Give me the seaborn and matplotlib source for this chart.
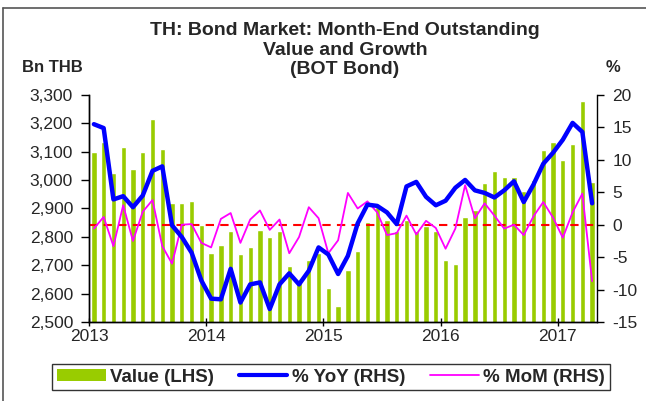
import numpy as np
import pandas as pd
import matplotlib
matplotlib.use("Agg")
import matplotlib.pyplot as plt
import seaborn as sns
from matplotlib.lines import Line2D
from matplotlib.patches import Patch

# month-end outstanding value, Bn THB (Jan 2013 - Apr 2017)
value = [3099, 3134, 3026, 3116, 3039, 3099, 3217, 3109, 2920, 2918, 2925, 2843,
         2744, 2770, 2820, 2741, 2763, 2825, 2801, 2822, 2698, 2647, 2719, 2743,
         2620, 2557, 2683, 2751, 2852, 2905, 2858, 2822, 2860, 2822, 2837, 2822,
         2718, 2704, 2869, 2895, 2990, 3031, 3011, 3010, 2962, 3002, 3105, 3136,
         3072, 3127, 3279, 2992]
# % YoY (RHS)
yoy = [15.5, 14.9, 3.9, 4.4, 2.7, 4.5, 8.3, 9.0, -0.1, -1.9, -4.3, -8.6,
       -11.4, -11.5, -6.8, -12.0, -9.2, -8.9, -13.0, -9.2, -7.5, -9.2, -7.1, -3.5,
       -4.6, -7.6, -4.8, 0.2, 3.1, 2.9, 1.9, 0.1, 5.9, 6.6, 4.3, 3.0,
       3.7, 5.7, 6.9, 5.3, 4.9, 4.2, 5.3, 6.7, 3.5, 6.2, 9.4, 11.1,
       13.1, 15.7, 14.3, 3.3]
# % MoM (RHS)
mom = [-0.6, 1.2, -3.3, 3.0, -2.5, 2.0, 3.8, -3.3, -6.0, 0.0, 0.1, -2.8,
       -3.5, 0.9, 1.8, -2.8, 0.8, 2.2, -0.8, 0.8, -4.4, -1.9, 2.7, 1.0,
       -4.4, -2.4, 4.9, 2.5, 3.6, 1.9, -1.6, -1.3, 1.4, -1.5, 0.6, -0.5,
       -3.7, -0.6, 6.1, 1.0, 3.3, 1.4, -0.6, 0.0, -1.6, 1.3, 3.5, 1.1,
       -2.0, 1.9, 4.8, -8.7]
years = ["2013", "2014", "2015", "2016", "2017"]

months = pd.date_range("2013-01-01", periods=len(value), freq="MS").strftime("%Y-%m")
df = pd.DataFrame({"month": months, "value": value, "yoy": yoy, "mom": mom})
df["pos"] = np.arange(len(df))

sns.set_style("ticks")
plt.rcParams["font.family"] = ["Liberation Sans", "DejaVu Sans"]

fig = plt.figure(figsize=(6.46, 4.01), dpi=100)
ax = fig.add_axes([89 / 646, 1 - 322 / 401, 508 / 646, 227 / 401])

sns.barplot(data=df, x="month", y="value", color="#99CC00", saturation=1,
            width=0.55, ax=ax)
ax.set_ylim(2500, 3300)
ax.set_yticks(range(2500, 3301, 100))
ax.set_yticklabels([f"{v:,}" for v in range(2500, 3301, 100)], fontsize=12.5)
ax.set_xlim(-0.5, len(df) - 0.5)
ax.set_xticks([i * 12 - 0.5 for i in range(len(years))])
ax.set_xticklabels(years, fontsize=12.5)
ax.set_xlabel("")
ax.set_ylabel("")
ax.tick_params(axis="y", direction="out", length=5.5, width=1, color="black", pad=6)
ax.tick_params(axis="x", direction="inout", length=6, width=1, color="black", pad=2)

ax2 = ax.twinx()
ax2.axhline(0, color="#FF0000", lw=1.5, ls=(0, (4, 3)), zorder=1)
sns.lineplot(data=df, x="pos", y="mom", color="#FF00FF", lw=1.3, ax=ax2, zorder=2)
sns.lineplot(data=df, x="pos", y="yoy", color="#0000FF", lw=3.2, ax=ax2, zorder=3)
ax2.set_ylim(-15, 20)
ax2.set_yticks(range(-15, 21, 5))
ax2.set_yticklabels([str(v) for v in range(-15, 21, 5)], fontsize=12.5)
ax2.set_xlim(-0.5, len(df) - 0.5)
ax2.set_xlabel("")
ax2.set_ylabel("")
ax2.tick_params(axis="y", direction="out", length=5, width=1, color="black", pad=6)

for a in (ax, ax2):
    a.spines["top"].set_visible(False)
    for s in ("left", "right", "bottom"):
        a.spines[s].set_color("black")
        a.spines[s].set_linewidth(1)
ax.spines["right"].set_visible(False)

fig.text(345 / 646, 1 - 22 / 401,
         "TH: Bond Market: Month-End Outstanding\nValue and Growth\n(BOT Bond)",
         ha="center", va="top", fontsize=14, fontweight="bold", linespacing=1.2)
fig.text(22 / 646, 1 - 68 / 401, "Bn THB", ha="left", va="center",
         fontsize=12, fontweight="bold")
fig.text(613 / 646, 1 - 68 / 401, "%", ha="center", va="center",
         fontsize=12, fontweight="bold")

handles = [Patch(facecolor="#99CC00", edgecolor="none"),
           Line2D([], [], color="#0000FF", lw=3),
           Line2D([], [], color="#FF00FF", lw=1.3)]
labels = ["Value (LHS)", "% YoY (RHS)", "% MoM (RHS)"]
leg = fig.legend(handles, labels, loc="center", bbox_to_anchor=(331 / 646, 1 - 377 / 401),
                 ncol=3, frameon=True, fancybox=False, edgecolor="black",
                 prop={"weight": "bold", "size": 13.5}, handlelength=2.6,
                 handleheight=0.55, columnspacing=1.3, handletextpad=0.25,
                 borderpad=0.25, borderaxespad=0)
leg.get_frame().set_linewidth(1)

# outer frame of the exhibit
fig.add_artist(Line2D([3 / 646, 3 / 646], [0, 1 - 8 / 401], color="#555555", lw=1.2))
fig.add_artist(Line2D([3 / 646, 1], [1 - 8 / 401, 1 - 8 / 401], color="#555555", lw=1.2))

fig.savefig("out.png", dpi=100)
